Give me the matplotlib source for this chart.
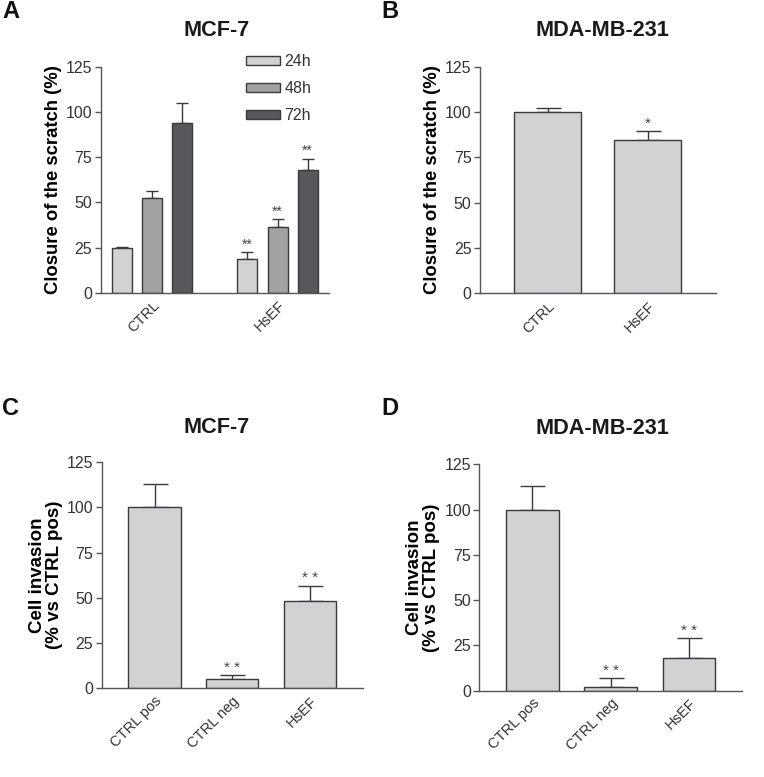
import matplotlib
matplotlib.use("Agg")
import matplotlib.pyplot as plt
import numpy as np

plt.rcParams["font.family"] = ["Liberation Sans", "DejaVu Sans"]

# panel A - scratch closure, MCF-7
a_groups = ["CTRL", "HsEF"]
a_times = ["24h", "48h", "72h"]
a_vals = [[25.0, 18.6], [52.3, 36.6], [93.7, 68.1]]
a_errs = [[0.5, 3.9], [4.2, 4.0], [11.0, 6.0]]
a_stars = [["", "**"], ["", "**"], ["", "**"]]

# panel B - scratch closure, MDA-MB-231
b_labels = ["CTRL", "HsEF"]
b_vals = [100.0, 84.7]
b_errs = [2.0, 4.8]
b_stars = ["", "*"]

# panel C - invasion, MCF-7
c_labels = ["CTRL pos", "CTRL neg", "HsEF"]
c_vals = [100.0, 5.1, 48.4]
c_errs = [13.0, 2.0, 8.3]
c_stars = ["", "* *", "* *"]

# panel D - invasion, MDA-MB-231
d_labels = ["CTRL pos", "CTRL neg", "HsEF"]
d_vals = [100.0, 2.2, 17.9]
d_errs = [13.0, 4.6, 11.0]
d_stars = ["", "* *", "* *"]

time_colors = ["#d2d2d4", "#a2a2a5", "#58585c"]
light = "#d2d2d4"
edge = "#3a3a3a"
axcol = "#555555"
txt = "#333333"

fig = plt.figure(figsize=(7.64, 7.77), dpi=100)
axA = fig.add_axes([0.1318, 0.6229, 0.2988, 0.2913])
axB = fig.add_axes([0.6279, 0.6225, 0.3093, 0.2917])
axC = fig.add_axes([0.1331, 0.1142, 0.3416, 0.2912])
axD = fig.add_axes([0.6274, 0.1111, 0.3438, 0.2913])


def style(ax, labels, xpos):
    ax.set_ylim(0, 125)
    ax.set_yticks([0, 25, 50, 75, 100, 125])
    for s in ["top", "right"]:
        ax.spines[s].set_visible(False)
    for s in ["left", "bottom"]:
        ax.spines[s].set_color(axcol)
        ax.spines[s].set_linewidth(1.0)
    ax.tick_params(axis="y", colors=axcol, labelcolor=txt, labelsize=11.5,
                   length=4, width=1, pad=2)
    ax.tick_params(axis="x", length=0, labelcolor=txt, labelsize=10.5, pad=4)
    ax.set_xticks(xpos)
    ax.set_xticklabels(labels, rotation=45, ha="right", va="top",
                       rotation_mode="anchor")


def stars(ax, xs, tops, marks, fs=8):
    for x, t, m in zip(xs, tops, marks):
        if m:
            ax.annotate(m, (x, t), xytext=(0, 0.5), textcoords="offset points",
                        ha="center", va="bottom", fontsize=fs, color="#444444")


# A
w = 0.16
xg = np.arange(len(a_groups))
for i, t in enumerate(a_times):
    xs = xg + (i - 1) * 0.24
    vals = np.array(a_vals[i])
    errs = np.array(a_errs[i])
    axA.bar(xs, vals, w, color=time_colors[i], edgecolor=edge, linewidth=1,
            label=t, zorder=2)
    axA.errorbar(xs, vals, yerr=[np.zeros_like(errs), errs], fmt="none",
                 ecolor=edge, elinewidth=1, capsize=4, capthick=1, zorder=1)
    stars(axA, xs, vals + errs, a_stars[i], fs=10)
axA.set_xlim(-0.41, 1.41)
style(axA, a_groups, xg)
axA.set_ylabel("Closure of the scratch (%)", fontsize=13.3, fontweight="bold",
               labelpad=3)
axA.legend(frameon=False, fontsize=11.5, handlelength=2.1, handleheight=0.5,
           labelspacing=0.75, handletextpad=0.3, borderpad=0, borderaxespad=0,
           loc="upper left", bbox_to_anchor=(246 / 764, 1 - 54 / 777),
           bbox_transform=fig.transFigure, labelcolor=txt)


def simple(ax, labels, vals, errs, marks, cap):
    xs = np.arange(len(labels))
    vals = np.array(vals)
    errs = np.array(errs)
    ax.bar(xs, vals, 0.67, color=light, edgecolor=edge, linewidth=1, zorder=2)
    ax.errorbar(xs, vals, yerr=[np.zeros_like(errs), errs], fmt="none",
                ecolor=edge, elinewidth=1, capsize=cap, capthick=1, zorder=1)
    stars(ax, xs, vals + errs, marks, fs=11)
    ax.set_xlim(-0.68, len(labels) - 1 + 0.68)
    style(ax, labels, xs)


simple(axB, b_labels, b_vals, b_errs, b_stars, 9)
axB.set_ylabel("Closure of the scratch (%)", fontsize=13.3, fontweight="bold",
               labelpad=3)
simple(axC, c_labels, c_vals, c_errs, c_stars, 9)
axC.set_ylabel("Cell invasion\n(% vs CTRL pos)", fontsize=13.5,
               fontweight="bold", labelpad=3, linespacing=1.0)
simple(axD, d_labels, d_vals, d_errs, d_stars, 9)
axD.set_ylabel("Cell invasion\n(% vs CTRL pos)", fontsize=13.5,
               fontweight="bold", labelpad=3, linespacing=1.0)

# titles and panel letters
for x, y, s in [(217, 31, "MCF-7"), (602, 31, "MDA-MB-231"),
                (217, 427, "MCF-7"), (602, 429, "MDA-MB-231")]:
    fig.text(x / 764, 1 - y / 777, s, ha="center", va="center",
             fontsize=15.6, fontweight="bold", color="#1a1a1a")
for x, y, s in [(2, 11.5, "A"), (381, 11.5, "B"), (2, 408.5, "C"),
                (381, 408.5, "D")]:
    fig.text(x / 764, 1 - y / 777, s, ha="left", va="center",
             fontsize=17, fontweight="bold", color="#111111")

fig.savefig("out.png", dpi=100)
